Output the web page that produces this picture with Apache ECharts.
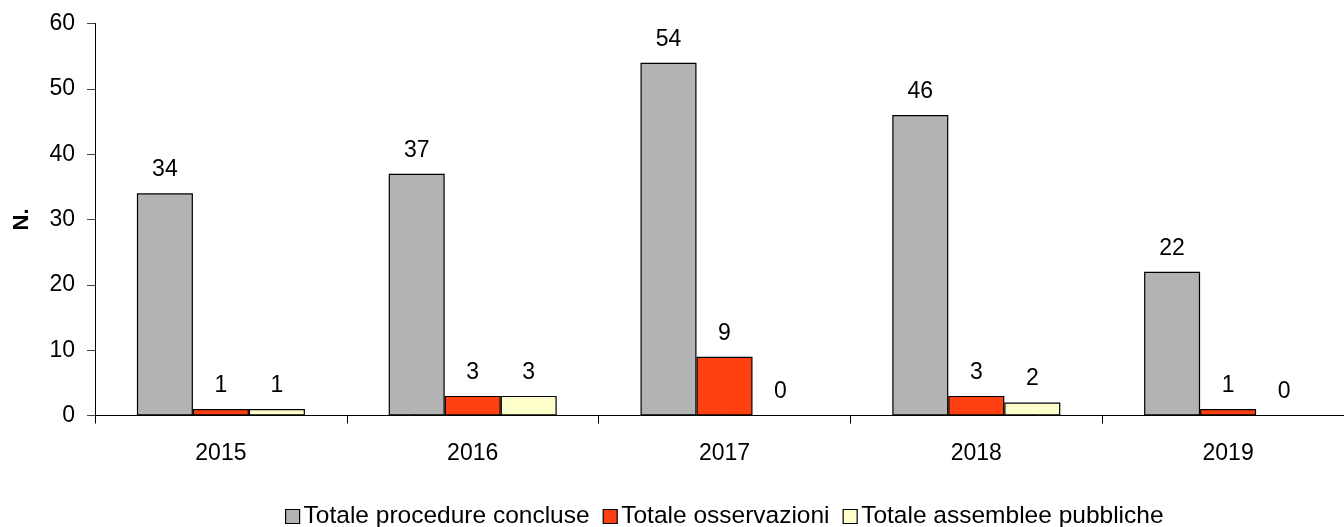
<!DOCTYPE html>
<html>
<head>
<meta charset="utf-8">
<script src="https://cdn.jsdelivr.net/npm/echarts@6/dist/echarts.min.js"></script>
<style>
  html, body { margin: 0; padding: 0; background: #fff; overflow: hidden; }
  /* the canvas is a little wider than the window so the last category runs off the right edge */
  #chart { width: 1360px; height: 527px; }
</style>
</head>
<body>
<div id="chart"></div>
<script>
// Years on the category axis
const years = ['2015', '2016', '2017', '2018', '2019'];

// Series values per year
const procedureConcluse = [34, 37, 54, 46, 22];
const osservazioni = [1, 3, 9, 3, 1];
const assembleePubbliche = [1, 3, 0, 2, 0];

// Series names shown in the legend
const seriesNames = ['Totale procedure concluse', 'Totale osservazioni', 'Totale assemblee pubbliche'];

// Y axis ticks
const yMin = 0, yMax = 60, yStep = 10;

const FONT = 'Liberation Sans, Arial, sans-serif';
const colors = ['#B3B3B3', '#FF4010', '#FFFFCC'];

function barSeries(name, data, color) {
  return {
    name: name,
    type: 'bar',
    data: data,
    barWidth: 56,
    barGap: '0%',
    itemStyle: { color: color, borderColor: '#000', borderWidth: 1.2 },
    label: {
      show: true,
      position: 'top',
      distance: 12,
      color: '#000',
      fontFamily: FONT,
      fontSize: 23
    },
    emphasis: { disabled: true }
  };
}

const chart = echarts.init(document.getElementById('chart'), null, { renderer: 'canvas' });
chart.setOption({
  animation: false,
  backgroundColor: '#fff',
  textStyle: { fontFamily: FONT },
  grid: { left: 95, width: 1259, top: 23.5, height: 392, containLabel: false },
  legend: {
    data: seriesNames,
    left: 280,
    top: 499,
    padding: 5,
    itemWidth: 14,
    itemHeight: 14,
    itemGap: 13,
    icon: 'rect',
    textStyle: { fontFamily: FONT, fontSize: 24.5, color: '#000', padding: [0, 0, 0, -1] },
    itemStyle: { borderColor: '#000', borderWidth: 1.2 }
  },
  xAxis: {
    type: 'category',
    data: years,
    axisLine: { lineStyle: { color: '#000', width: 1 } },
    axisTick: { show: true, length: 8, lineStyle: { color: '#000' } },
    axisLabel: { color: '#000', fontFamily: FONT, fontSize: 23, margin: 27 },
    splitLine: { show: false }
  },
  yAxis: {
    type: 'value',
    min: yMin,
    max: yMax,
    interval: yStep,
    name: 'N.',
    nameLocation: 'middle',
    nameGap: 62,
    nameTextStyle: { fontFamily: FONT, fontSize: 22, fontWeight: 'bold', color: '#000' },
    axisLine: { show: true, lineStyle: { color: '#000', width: 1 } },
    axisTick: { show: true, length: 8, lineStyle: { color: '#444' } },
    axisLabel: { color: '#000', fontFamily: FONT, fontSize: 23, margin: 20 },
    splitLine: { show: false }
  },
  series: [
    barSeries(seriesNames[0], procedureConcluse, colors[0]),
    barSeries(seriesNames[1], osservazioni, colors[1]),
    barSeries(seriesNames[2], assembleePubbliche, colors[2])
  ]
});
</script>
</body>
</html>
